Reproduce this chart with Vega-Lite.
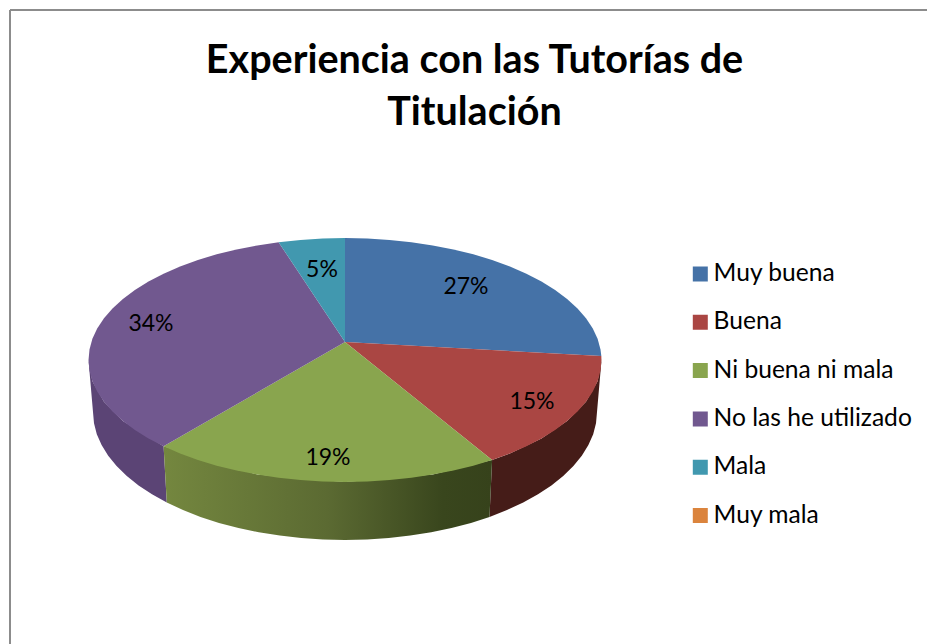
{
"$schema":"https://vega.github.io/schema/vega-lite/v6.json",
"width":927,"height":644,"autosize":"none","padding":0,"background":"white",
"config":{"view":{"stroke":null}},
"title":{"text":["Experiencia con las Tutorías de","Titulación"],"font":"Lato","fontWeight":"bold","fontSize":39.5,"lineHeight":52,"color":"#000000","anchor":"middle","frame":"group","dx":11,"offset":-133,"orient":"top"},
"datasets":{
"frame":[{"a":10,"b":10,"c":927,"d":644}],
"wall":[
{"w":"r","o":1,"x":601.5,"y":360},{"w":"r","o":2,"x":597.6,"y":381.2},{"w":"r","o":3,"x":586,"y":401.7},{"w":"r","o":4,"x":567.1,"y":421},{"w":"r","o":5,"x":541.5,"y":438.4},{"w":"r","o":6,"x":509.9,"y":453.5},{"w":"r","o":7,"x":492.1,"y":459.9},{"w":"r","o":8,"x":489.5,"y":516.9},{"w":"r","o":9,"x":507,"y":510},{"w":"r","o":10,"x":523.2,"y":502.5},{"w":"r","o":11,"x":538,"y":494.3},{"w":"r","o":12,"x":551.4,"y":485.4},{"w":"r","o":13,"x":563.2,"y":476},{"w":"r","o":14,"x":573.4,"y":466.1},{"w":"r","o":15,"x":581.8,"y":455.8},{"w":"r","o":16,"x":588.4,"y":445.1},{"w":"r","o":17,"x":593.2,"y":434.2},{"w":"r","o":18,"x":596,"y":423.2},{"w":"r","o":19,"x":597,"y":412},
{"w":"g","o":1,"x":492.1,"y":459.9},{"w":"g","o":2,"x":432.7,"y":474.6},{"w":"g","o":3,"x":345,"y":482},{"w":"g","o":4,"x":257.3,"y":474.6},{"w":"g","o":5,"x":163.6,"y":446.3},{"w":"g","o":6,"x":166.8,"y":502.5},{"w":"g","o":7,"x":183,"y":510},{"w":"g","o":8,"x":200.5,"y":516.9},{"w":"g","o":9,"x":219,"y":522.9},{"w":"g","o":10,"x":238.5,"y":528},{"w":"g","o":11,"x":258.8,"y":532.3},{"w":"g","o":12,"x":279.8,"y":535.6},{"w":"g","o":13,"x":301.2,"y":538.1},{"w":"g","o":14,"x":323,"y":539.5},{"w":"g","o":15,"x":345,"y":540},{"w":"g","o":16,"x":367,"y":539.5},{"w":"g","o":17,"x":388.8,"y":538.1},{"w":"g","o":18,"x":410.2,"y":535.6},{"w":"g","o":19,"x":431.2,"y":532.3},{"w":"g","o":20,"x":451.5,"y":528},{"w":"g","o":21,"x":471,"y":522.9},{"w":"g","o":22,"x":489.5,"y":516.9},
{"w":"p","o":1,"x":163.6,"y":446.3},{"w":"p","o":2,"x":122.9,"y":421},{"w":"p","o":3,"x":104,"y":401.7},{"w":"p","o":4,"x":92.4,"y":381.2},{"w":"p","o":5,"x":88.5,"y":360},{"w":"p","o":6,"x":93,"y":412},{"w":"p","o":7,"x":94,"y":423.2},{"w":"p","o":8,"x":96.8,"y":434.2},{"w":"p","o":9,"x":101.6,"y":445.1},{"w":"p","o":10,"x":108.2,"y":455.8},{"w":"p","o":11,"x":116.6,"y":466.1},{"w":"p","o":12,"x":126.8,"y":476},{"w":"p","o":13,"x":138.6,"y":485.4},{"w":"p","o":14,"x":152,"y":494.3},{"w":"p","o":15,"x":166.8,"y":502.5}
],
"face":[
{"c":"Muy buena","o":0,"x":345,"y":342},{"c":"Muy buena","o":1,"x":345,"y":238},{"c":"Muy buena","o":2,"x":367.4,"y":238.5},{"c":"Muy buena","o":3,"x":389.5,"y":239.9},{"c":"Muy buena","o":4,"x":411.4,"y":242.2},{"c":"Muy buena","o":5,"x":432.7,"y":245.4},{"c":"Muy buena","o":6,"x":453.4,"y":249.4},{"c":"Muy buena","o":7,"x":473.3,"y":254.3},{"c":"Muy buena","o":8,"x":492.1,"y":260.1},{"c":"Muy buena","o":9,"x":509.9,"y":266.5},{"c":"Muy buena","o":10,"x":526.4,"y":273.7},{"c":"Muy buena","o":11,"x":541.5,"y":281.6},{"c":"Muy buena","o":12,"x":555.1,"y":290},{"c":"Muy buena","o":13,"x":567.1,"y":299},{"c":"Muy buena","o":14,"x":577.5,"y":308.4},{"c":"Muy buena","o":15,"x":586,"y":318.3},{"c":"Muy buena","o":16,"x":592.8,"y":328.4},{"c":"Muy buena","o":17,"x":597.6,"y":338.8},{"c":"Muy buena","o":18,"x":600.5,"y":349.4},{"c":"Muy buena","o":19,"x":601.3,"y":356},
{"c":"Buena","o":0,"x":345,"y":342},{"c":"Buena","o":1,"x":601.3,"y":356},{"c":"Buena","o":2,"x":601.5,"y":360},{"c":"Buena","o":3,"x":600.5,"y":370.6},{"c":"Buena","o":4,"x":597.6,"y":381.2},{"c":"Buena","o":5,"x":592.8,"y":391.6},{"c":"Buena","o":6,"x":586,"y":401.7},{"c":"Buena","o":7,"x":577.5,"y":411.6},{"c":"Buena","o":8,"x":567.1,"y":421},{"c":"Buena","o":9,"x":555.1,"y":430},{"c":"Buena","o":10,"x":541.5,"y":438.4},{"c":"Buena","o":11,"x":526.4,"y":446.3},{"c":"Buena","o":12,"x":509.9,"y":453.5},{"c":"Buena","o":13,"x":492.1,"y":459.9},
{"c":"Ni buena ni mala","o":0,"x":345,"y":342},{"c":"Ni buena ni mala","o":1,"x":492.1,"y":459.9},{"c":"Ni buena ni mala","o":2,"x":473.3,"y":465.7},{"c":"Ni buena ni mala","o":3,"x":453.4,"y":470.6},{"c":"Ni buena ni mala","o":4,"x":432.7,"y":474.6},{"c":"Ni buena ni mala","o":5,"x":411.4,"y":477.8},{"c":"Ni buena ni mala","o":6,"x":389.5,"y":480.1},{"c":"Ni buena ni mala","o":7,"x":367.4,"y":481.5},{"c":"Ni buena ni mala","o":8,"x":345,"y":482},{"c":"Ni buena ni mala","o":9,"x":322.6,"y":481.5},{"c":"Ni buena ni mala","o":10,"x":300.5,"y":480.1},{"c":"Ni buena ni mala","o":11,"x":278.6,"y":477.8},{"c":"Ni buena ni mala","o":12,"x":257.3,"y":474.6},{"c":"Ni buena ni mala","o":13,"x":236.6,"y":470.6},{"c":"Ni buena ni mala","o":14,"x":216.7,"y":465.7},{"c":"Ni buena ni mala","o":15,"x":197.9,"y":459.9},{"c":"Ni buena ni mala","o":16,"x":180.1,"y":453.5},{"c":"Ni buena ni mala","o":17,"x":163.6,"y":446.3},
{"c":"No las he utilizado","o":0,"x":345,"y":342},{"c":"No las he utilizado","o":1,"x":163.6,"y":446.3},{"c":"No las he utilizado","o":2,"x":148.5,"y":438.4},{"c":"No las he utilizado","o":3,"x":134.9,"y":430},{"c":"No las he utilizado","o":4,"x":122.9,"y":421},{"c":"No las he utilizado","o":5,"x":112.5,"y":411.6},{"c":"No las he utilizado","o":6,"x":104,"y":401.7},{"c":"No las he utilizado","o":7,"x":97.2,"y":391.6},{"c":"No las he utilizado","o":8,"x":92.4,"y":381.2},{"c":"No las he utilizado","o":9,"x":89.5,"y":370.6},{"c":"No las he utilizado","o":10,"x":88.5,"y":360},{"c":"No las he utilizado","o":11,"x":89.5,"y":349.4},{"c":"No las he utilizado","o":12,"x":92.4,"y":338.8},{"c":"No las he utilizado","o":13,"x":97.2,"y":328.4},{"c":"No las he utilizado","o":14,"x":104,"y":318.3},{"c":"No las he utilizado","o":15,"x":112.5,"y":308.4},{"c":"No las he utilizado","o":16,"x":122.9,"y":299},{"c":"No las he utilizado","o":17,"x":134.9,"y":290},{"c":"No las he utilizado","o":18,"x":148.5,"y":281.6},{"c":"No las he utilizado","o":19,"x":163.6,"y":273.7},{"c":"No las he utilizado","o":20,"x":180.1,"y":266.5},{"c":"No las he utilizado","o":21,"x":197.9,"y":260.1},{"c":"No las he utilizado","o":22,"x":216.7,"y":254.3},{"c":"No las he utilizado","o":23,"x":236.6,"y":249.4},{"c":"No las he utilizado","o":24,"x":257.3,"y":245.4},{"c":"No las he utilizado","o":25,"x":278.6,"y":242.2},
{"c":"Mala","o":0,"x":345,"y":342},{"c":"Mala","o":1,"x":278.6,"y":242.2},{"c":"Mala","o":2,"x":300.5,"y":239.9},{"c":"Mala","o":3,"x":322.6,"y":238.5},{"c":"Mala","o":4,"x":345,"y":238}
],
"pct":[{"t":"27%","x":466,"y":285},{"t":"15%","x":532,"y":400},{"t":"19%","x":328,"y":456},{"t":"34%","x":151,"y":322},{"t":"5%","x":322,"y":268}]
},
"layer":[
{"data":{"name":"frame"},"mark":{"type":"rule","color":"#8c8c8c","strokeWidth":2},"encoding":{"x":{"field":"a","type":"quantitative","scale":{"domain":[0,927],"nice":false},"axis":null},"y":{"field":"b","type":"quantitative","scale":{"domain":[644,0],"nice":false},"axis":null},"y2":{"field":"d"}}},
{"data":{"name":"frame"},"mark":{"type":"rule","color":"#8c8c8c","strokeWidth":2},"encoding":{"x":{"field":"a","type":"quantitative","axis":null},"x2":{"field":"c"},"y":{"field":"b","type":"quantitative","axis":null}}},
{"data":{"name":"wall"},"transform":[{"filter":"datum.w==='r'"}],"mark":{"type":"line","filled":true,"fill":"#451c18","strokeWidth":0},"encoding":{"x":{"field":"x","type":"quantitative","axis":null},"y":{"field":"y","type":"quantitative","axis":null},"order":{"field":"o","type":"quantitative"}}},
{"data":{"name":"wall"},"transform":[{"filter":"datum.w==='p'"}],"mark":{"type":"line","filled":true,"fill":"#5b4475","strokeWidth":0},"encoding":{"x":{"field":"x","type":"quantitative","axis":null},"y":{"field":"y","type":"quantitative","axis":null},"order":{"field":"o","type":"quantitative"}}},
{"data":{"name":"wall"},"transform":[{"filter":"datum.w==='g'"}],"mark":{"type":"line","filled":true,"fill":{"gradient":"linear","x1":0,"y1":0,"x2":1,"y2":0,"stops":[{"offset":0,"color":"#74873f"},{"offset":0.5,"color":"#5b6a32"},{"offset":0.85,"color":"#39461d"},{"offset":1,"color":"#36421b"}]},"strokeWidth":0},"encoding":{"x":{"field":"x","type":"quantitative","axis":null},"y":{"field":"y","type":"quantitative","axis":null},"order":{"field":"o","type":"quantitative"}}},
{"data":{"name":"face"},"mark":{"type":"line","filled":true,"strokeWidth":0},"encoding":{"x":{"field":"x","type":"quantitative","axis":null},"y":{"field":"y","type":"quantitative","axis":null},"order":{"field":"o","type":"quantitative"},
"fill":{"field":"c","type":"nominal","scale":{"domain":["Muy buena","Buena","Ni buena ni mala","No las he utilizado","Mala","Muy mala"],"range":["#4572a7","#aa4643","#89a54e","#71588f","#4198af","#db843d"]},
"legend":{"title":null,"orient":"none","legendX":688,"legendY":250,"symbolType":"square","symbolSize":225,"symbolStrokeWidth":0,"labelFont":"Lato","labelFontSize":24.6,"labelColor":"#000000","labelLimit":240,"clipHeight":48,"rowPadding":0.3,"labelOffset":1,"padding":0}}}},
{"data":{"name":"pct"},"mark":{"type":"text","font":"Lato","fontSize":23,"color":"#000000","align":"center","baseline":"middle","dy":1.5},"encoding":{"x":{"field":"x","type":"quantitative","axis":null},"y":{"field":"y","type":"quantitative","axis":null},"text":{"field":"t","type":"nominal"}}}
]
}
